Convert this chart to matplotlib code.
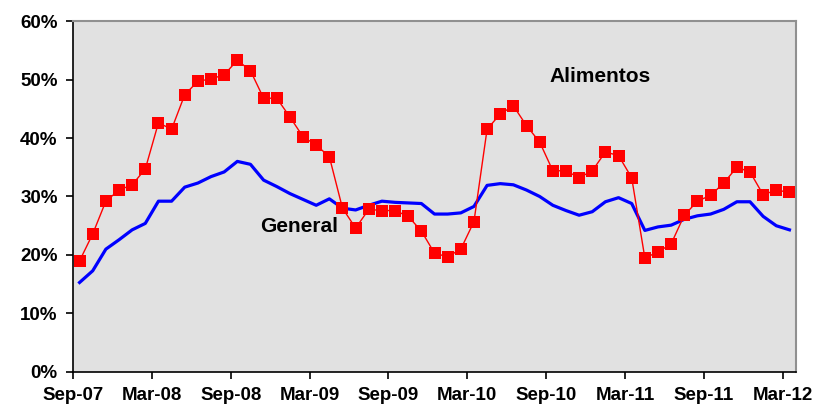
import numpy as np
import matplotlib.pyplot as plt

plt.rcParams['font.family'] = ['Liberation Sans', 'DejaVu Sans']

# monthly series, Sep-07 .. Mar-12 (55 months)
alimentos = [19.0, 23.6, 29.2, 31.1, 32.0, 34.7, 42.6, 41.5, 47.4, 49.7,
             50.1, 50.8, 53.3, 51.5, 46.8, 46.8, 43.6, 40.2, 38.8, 36.8,
             28.0, 24.6, 27.8, 27.6, 27.6, 26.6, 24.1, 20.3, 19.7, 21.0,
             25.7, 41.5, 44.1, 45.5, 42.1, 39.3, 34.4, 34.4, 33.2, 34.4,
             37.6, 37.0, 33.2, 19.5, 20.5, 21.9, 26.8, 29.2, 30.2, 32.3,
             35.0, 34.2, 30.3, 31.1, 30.7]
general = [15.3, 17.3, 21.0, 22.6, 24.3, 25.4, 29.2, 29.2, 31.6, 32.3,
           33.4, 34.2, 36.0, 35.5, 32.8, 31.7, 30.5, 29.5, 28.5, 29.6,
           28.0, 27.7, 28.5, 29.2, 29.0, 28.9, 28.8, 27.0, 27.0, 27.2,
           28.3, 31.9, 32.2, 32.0, 31.1, 30.0, 28.5, 27.6, 26.8, 27.4,
           29.1, 29.8, 28.8, 24.2, 24.8, 25.1, 26.1, 26.7, 27.0, 27.8,
           29.1, 29.1, 26.6, 25.0, 24.3]
tick_labels = ['Sep-07', 'Mar-08', 'Sep-08', 'Mar-09', 'Sep-09', 'Mar-10',
               'Sep-10', 'Mar-11', 'Sep-11', 'Mar-12']

x = np.arange(len(alimentos))

fig = plt.figure(figsize=(8.22, 4.07), dpi=100)
ax = fig.add_axes([0.0888, 0.086, 0.8796, 0.8624])
ax.set_facecolor('#E1E1E1')

ax.plot(x, general, color='#0000FF', lw=2.3, zorder=2)
ax.plot(x, alimentos, color='#FF0000', lw=1.0, marker='s', ms=8.5,
        markeredgewidth=0, zorder=3)

ax.set_xlim(-0.5, len(x) - 0.5)
ax.set_ylim(0, 60)
ax.set_yticks(np.arange(0, 61, 10))
ax.set_yticklabels([f'{v}%' for v in range(0, 61, 10)])
ax.set_xticks(np.arange(0, len(x), 6) - 0.5)
ax.set_xticklabels(tick_labels)

for lab in ax.get_xticklabels() + ax.get_yticklabels():
    lab.set_fontweight('bold')
    lab.set_fontsize(13.5)
ax.tick_params(axis='both', direction='out', length=5, width=1.2, color='black')
ax.tick_params(axis='x', pad=6)
ax.tick_params(axis='y', pad=6)

for s in ['left', 'bottom']:
    ax.spines[s].set_color('black')
    ax.spines[s].set_linewidth(1.2)
for s in ['top', 'right']:
    ax.spines[s].set_color('#909090')
    ax.spines[s].set_linewidth(1.5)

ax.text(600, 77, 'Alimentos', transform=None, fontsize=15, fontweight='bold',
        ha='center', va='center')
ax.text(299, 226, 'General', transform=None, fontsize=15, fontweight='bold',
        ha='center', va='center')

# pixel-positioned labels: convert from top-left image coords
for t in ax.texts:
    px, py = t.get_position()
    t.set_transform(fig.dpi_scale_trans)
    t.set_position((px / 100, (407 - py) / 100))

fig.savefig('out.png', dpi=100)
